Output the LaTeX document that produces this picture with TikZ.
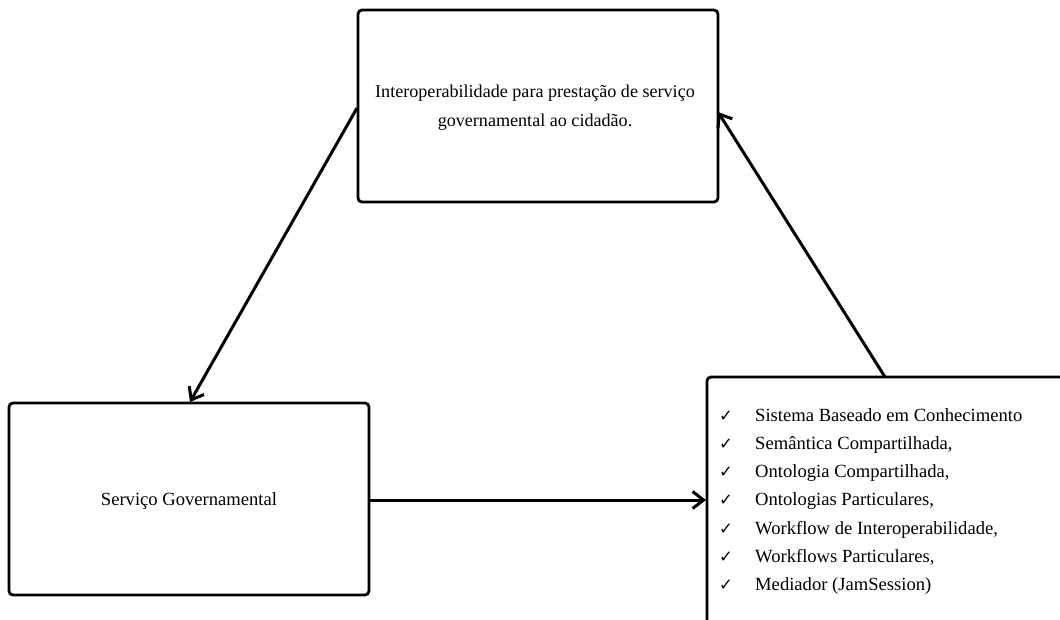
\documentclass[tikz,border=0pt]{standalone}
\usepackage{fontspec}
\setmainfont{Liberation Serif}
\newfontfamily\symfont{DejaVu Sans}
\usetikzlibrary{arrows.meta}
\begin{document}
\begin{tikzpicture}[x=1pt,y=-1pt,
  box/.style={draw, line width=2.8pt, rounded corners=4pt, inner sep=0pt},
  link/.style={line width=3pt, -{Straight Barb[length=11pt,width=17pt]}},
  item/.style={anchor=base west, inner sep=0pt, font=\fontsize{18.6}{22}\selectfont},
  tick/.style={anchor=base, inner sep=0pt, font=\symfont\fontsize{16.5}{20}\selectfont}]
\useasboundingbox (0,0) rectangle (1060,619);
\clip (0,0) rectangle (1060,619);
% boxes
\node[box, minimum width=360pt, minimum height=192pt] (top) at (538,106) {};
\node[align=center, font=\fontsize{18.1}{29}\selectfont] (toptext) at (535,108)
  {Interoperabilidade para prestação de serviço\\governamental ao cidadão.};
\node[box, minimum width=360pt, minimum height=192pt] (left) at (189,499) {};
\node[font=\fontsize{18.6}{22}\selectfont] (lefttext) at (189,501) {Serviço Governamental};
\node[box, minimum width=380pt, minimum height=270pt] (right) at (897,512) {};
% list of components
\foreach \i/\t in {0/Sistema Baseado em Conhecimento,
                   1/Semântica Compartilhada{,},
                   2/Ontologia Compartilhada{,},
                   3/Ontologias Particulares{,},
                   4/Workflow de Interoperabilidade{,},
                   5/Workflows Particulares{,},
                   6/Mediador (JamSession)}{
  \node[tick] (c\i) at (726,421+28.3*\i) {✓};
  \node[item] (t\i) at (755,421+28.3*\i) {\t};
}
% connectors
\coordinate (a1) at (357,108);
\coordinate (a2) at (190,402);
\coordinate (b1) at (369,500);
\coordinate (b2) at (706,500);
\coordinate (c1s) at (885,377);
\coordinate (c2e) at (718,112);
\draw[link] (a1) -- (a2);
\draw[link] (b1) -- (b2);
\draw[link] (c1s) -- (c2e);
\end{tikzpicture}
\end{document}
